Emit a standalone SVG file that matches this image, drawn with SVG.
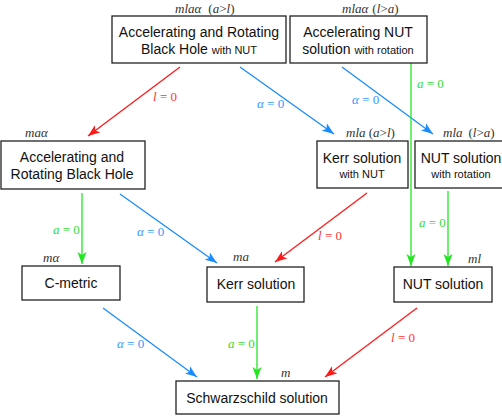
<svg xmlns="http://www.w3.org/2000/svg" width="502" height="417" viewBox="0 0 502 417">
<style>
.box{fill:#fff;stroke:#222;stroke-width:1.3}
.t{font-family:"Liberation Sans",Arial,sans-serif;font-size:14px;fill:#111;text-anchor:middle}
.s{font-size:11px}
.m{font-family:"Liberation Serif","Times New Roman",serif;font-size:13px;font-style:italic;fill:#333}
.u{font-style:normal}
.r{stroke:#ff1a1a;stroke-width:1.3;fill:none}
.b{stroke:#1a8cff;stroke-width:1.3;fill:none}
.g{stroke:#22e622;stroke-width:1.3;fill:none}
.lr{fill:#ff3333}
.lb{fill:#3399ff}
.lg{fill:#33dd33}
</style>
<defs>
<marker id="ar" markerUnits="userSpaceOnUse" markerWidth="13" markerHeight="10" refX="12" refY="5" orient="auto"><path d="M0,0.5 L12,5 L0,9.5 L3,5 Z" fill="#ff1a1a"/></marker>
<marker id="ab" markerUnits="userSpaceOnUse" markerWidth="13" markerHeight="10" refX="12" refY="5" orient="auto"><path d="M0,0.5 L12,5 L0,9.5 L3,5 Z" fill="#1a8cff"/></marker>
<marker id="ag" markerUnits="userSpaceOnUse" markerWidth="13" markerHeight="10" refX="12" refY="5" orient="auto"><path d="M0,0.5 L12,5 L0,9.5 L3,5 Z" fill="#22e622"/></marker>
</defs>

<g id="connectors">
<line class="r" x1="180" y1="67" x2="88" y2="136" marker-end="url(#ar)"/>
<text class="m lr" x="153" y="101">l<tspan class="u"> = 0</tspan></text>
<line class="b" x1="240" y1="67" x2="334" y2="134" marker-end="url(#ab)"/>
<text class="m lb" x="257" y="108">α<tspan class="u"> = 0</tspan></text>
<line class="b" x1="342" y1="67" x2="433" y2="134" marker-end="url(#ab)"/>
<text class="m lb" x="352" y="104">α<tspan class="u"> = 0</tspan></text>
<line class="g" x1="411" y1="63" x2="411" y2="266" marker-end="url(#ag)"/>
<text class="m lg" x="417" y="88">a<tspan class="u"> = 0</tspan></text>
<line class="g" x1="448" y1="191" x2="448" y2="266" marker-end="url(#ag)"/>
<text class="m lg" x="419" y="227">a<tspan class="u"> = 0</tspan></text>
<line class="r" x1="367" y1="193" x2="275" y2="262" marker-end="url(#ar)"/>
<text class="m lr" x="318" y="240">l<tspan class="u"> = 0</tspan></text>
<line class="g" x1="82" y1="193" x2="82" y2="264" marker-end="url(#ag)"/>
<text class="m lg" x="53" y="234">a<tspan class="u"> = 0</tspan></text>
<line class="b" x1="120" y1="194" x2="217" y2="263" marker-end="url(#ab)"/>
<text class="m lb" x="137" y="236">α<tspan class="u"> = 0</tspan></text>
<line class="b" x1="103" y1="308" x2="197" y2="377" marker-end="url(#ab)"/>
<text class="m lb" x="117" y="348">α<tspan class="u"> = 0</tspan></text>
<line class="g" x1="257" y1="306" x2="257" y2="379" marker-end="url(#ag)"/>
<text class="m lg" x="228" y="348">a<tspan class="u"> = 0</tspan></text>
<line class="r" x1="417" y1="308" x2="325" y2="377" marker-end="url(#ar)"/>
<text class="m lr" x="391" y="342">l<tspan class="u"> = 0</tspan></text>
</g>

<g id="n1">
<rect class="box" x="112" y="16" width="174" height="47"/>
<text class="t" x="199" y="37">Accelerating and Rotating</text>
<text class="t" x="199" y="54">Black Hole <tspan class="s">with NUT</tspan></text>
<text class="m" x="175" y="13">mlaα<tspan class="u" dx="7">(</tspan>a<tspan class="u">&gt;</tspan>l<tspan class="u">)</tspan></text>
</g>
<g id="n2">
<rect class="box" x="290" y="16" width="137" height="47"/>
<text class="t" x="358" y="37">Accelerating NUT</text>
<text class="t" x="358" y="54">solution <tspan class="s">with rotation</tspan></text>
<text class="m" x="342" y="13">mlaα<tspan class="u" dx="4">(</tspan>l<tspan class="u">&gt;</tspan>a<tspan class="u">)</tspan></text>
</g>
<g id="n3">
<rect class="box" x="1" y="141" width="144" height="48"/>
<text class="t" x="72" y="162">Accelerating and</text>
<text class="t" x="72" y="179">Rotating Black Hole</text>
<text class="m" x="25" y="137">maα</text>
</g>
<g id="n4">
<rect class="box" x="317" y="141" width="91" height="47"/>
<text class="t" x="362" y="163">Kerr solution</text>
<text class="t s" x="362" y="178">with NUT</text>
<text class="m" x="346" y="137">mla <tspan class="u">(</tspan>a<tspan class="u">&gt;</tspan>l<tspan class="u">)</tspan></text>
</g>
<g id="n5">
<rect class="box" x="415" y="141" width="90" height="47"/>
<text class="t" x="461" y="163">NUT solution</text>
<text class="t s" x="461" y="178">with rotation</text>
<text class="m" x="443" y="137">mla<tspan class="u" dx="6">(</tspan>l<tspan class="u">&gt;</tspan>a<tspan class="u">)</tspan></text>
</g>
<g id="n6">
<rect class="box" x="22" y="266" width="98" height="34"/>
<text class="t" x="71" y="288">C-metric</text>
<text class="m" x="43" y="262">mα</text>
</g>
<g id="n7">
<rect class="box" x="207" y="267" width="97" height="35"/>
<text class="t" x="256" y="289">Kerr solution</text>
<text class="m" x="233" y="261">ma</text>
</g>
<g id="n8">
<rect class="box" x="394" y="267" width="98" height="35"/>
<text class="t" x="443" y="289">NUT solution</text>
<text class="m" x="468" y="263">ml</text>
</g>
<g id="n9">
<rect class="box" x="176" y="381" width="163" height="33"/>
<text class="t" x="257" y="403">Schwarzschild solution</text>
<text class="m" x="281" y="377">m</text>
</g>
</svg>
